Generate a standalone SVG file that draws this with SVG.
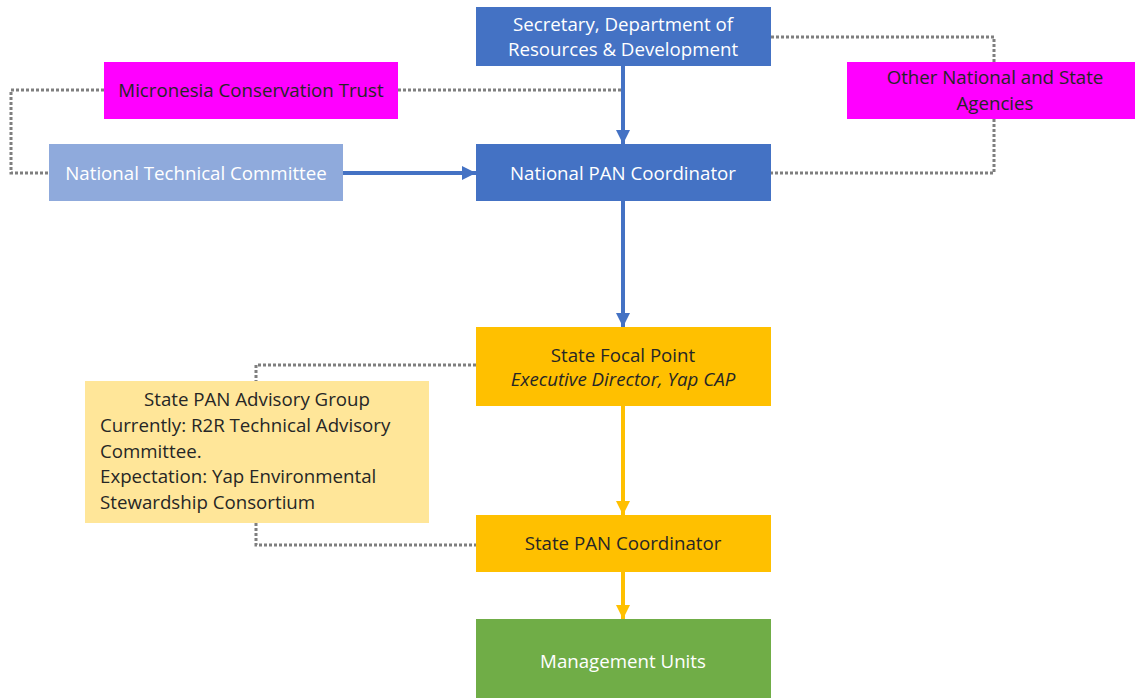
<svg xmlns="http://www.w3.org/2000/svg" width="1135" height="698" viewBox="0 0 1135 698">
<defs>
<marker id="ab" markerUnits="userSpaceOnUse" markerWidth="14" markerHeight="14" viewBox="0 0 14 14" refX="14" refY="7" orient="auto"><path d="M0,0 L14,7 L0,14 Z" fill="#4472C4"/></marker>
<marker id="ay" markerUnits="userSpaceOnUse" markerWidth="14" markerHeight="14" viewBox="0 0 14 14" refX="14" refY="7" orient="auto"><path d="M0,0 L14,7 L0,14 Z" fill="#FFC000"/></marker>
</defs>
<style>
text{font-family:"Open Sans","Liberation Sans",sans-serif;font-size:18.7px;text-anchor:middle}
.w{fill:#FFFFFF}
.d{fill:#262626}
.l{text-anchor:start}
.dot{fill:none;stroke:#7F7F7F;stroke-width:3;stroke-dasharray:3 2}
.b{fill:none;stroke:#4472C4;stroke-width:4}
.y{fill:none;stroke:#FFC000;stroke-width:4}
</style>
<rect width="1135" height="698" fill="#FFFFFF"/>
<g id="connectors">
<polyline class="dot" points="398,90 621,90"/>
<polyline class="dot" points="104,90 11,90 11,173 49,173"/>
<polyline class="dot" points="771,37 994,37 994,62"/>
<polyline class="dot" points="994,119 994,173 771,173"/>
<polyline class="dot" points="476,365 256,365 256,381"/>
<polyline class="dot" points="256,523 256,545 476,545"/>
<line class="b" x1="623" y1="66" x2="623" y2="144" marker-end="url(#ab)"/>
<line class="b" x1="343" y1="173" x2="476" y2="173" marker-end="url(#ab)"/>
<line class="b" x1="623" y1="201" x2="623" y2="327" marker-end="url(#ab)"/>
<line class="y" x1="623" y1="406" x2="623" y2="515" marker-end="url(#ay)"/>
<line class="y" x1="623" y1="572" x2="623" y2="619" marker-end="url(#ay)"/>
</g>
<g id="secretary">
<rect x="476" y="7" width="295" height="59" fill="#4472C4"/>
<text class="w" x="623" y="31">Secretary, Department of</text>
<text class="w" x="623" y="56">Resources &amp; Development</text>
</g>
<g id="mct">
<rect x="104" y="62" width="294" height="57" fill="#FF00FF"/>
<text class="d" x="251" y="97">Micronesia Conservation Trust</text>
</g>
<g id="other">
<rect x="847" y="62" width="288" height="57" fill="#FF00FF"/>
<text class="d" x="995" y="84">Other National and State</text>
<text class="d" x="995" y="110">Agencies</text>
</g>
<g id="ntc">
<rect x="49" y="144" width="294" height="57" fill="#8FAADC"/>
<text class="w" x="196" y="180">National Technical Committee</text>
</g>
<g id="npc">
<rect x="476" y="144" width="295" height="57" fill="#4472C4"/>
<text class="w" x="623" y="180">National PAN Coordinator</text>
</g>
<g id="sfp">
<rect x="476" y="327" width="295" height="79" fill="#FFC000"/>
<text class="d" x="623" y="362">State Focal Point</text>
<text class="d" x="623" y="386" font-style="italic" font-size="14.8">Executive Director, Yap CAP</text>
</g>
<g id="advisory">
<rect x="85" y="381" width="344" height="142" fill="#FFE699"/>
<text class="d" x="257" y="406">State PAN Advisory Group</text>
<text class="d l" x="100" y="432">Currently: R2R Technical Advisory</text>
<text class="d l" x="100" y="458">Committee.</text>
<text class="d l" x="100" y="483">Expectation: Yap Environmental</text>
<text class="d l" x="100" y="509">Stewardship Consortium</text>
</g>
<g id="spc">
<rect x="476" y="515" width="295" height="57" fill="#FFC000"/>
<text class="d" x="623" y="550">State PAN Coordinator</text>
</g>
<g id="mu">
<rect x="476" y="619" width="295" height="79" fill="#70AD47"/>
<text class="w" x="623" y="668">Management Units</text>
</g>
</svg>
